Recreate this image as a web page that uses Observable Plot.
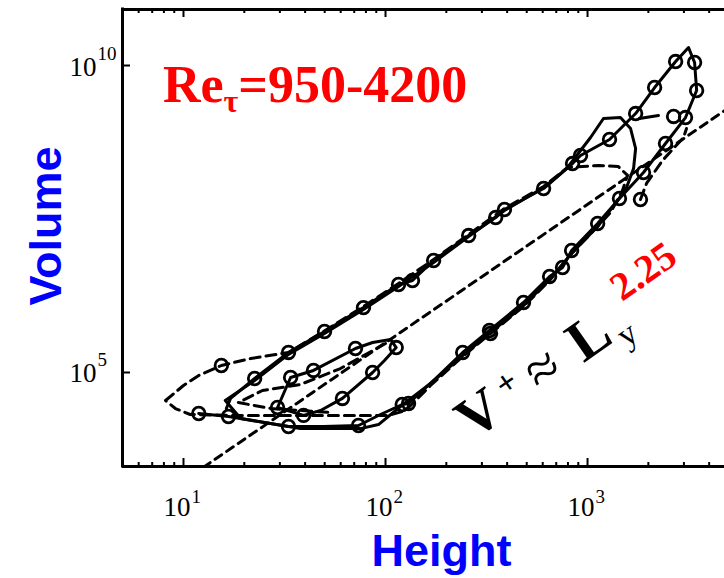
<!DOCTYPE html>
<html>
<head>
<meta charset="utf-8">
<script src="https://cdn.jsdelivr.net/npm/d3@7"></script>
<script src="https://cdn.jsdelivr.net/npm/@observablehq/plot@0.6"></script>
<style>
  html, body { margin: 0; padding: 0; background: #fff; }
  #chart svg { display: block; }
</style>
</head>
<body>
<div id="chart"></div>
<script>
// ---------- data (Height, Volume) ----------
// main loop, solid line
const heightA = [11.9, 16.7, 23.5, 33.1, 49.3, 73.5, 94.4, 121, 130, 177, 241, 327, 482, 649, 752, 834, 1122, 1439, 1892, 2432, 3055, 3467, 3388, 3162, 2729, 2148, 1730, 1285, 923, 843, 606, 388, 351, 258, 173, 136, 116, 77.8, 49.9, 33.1, 22.5, 17.1, 16.3];
const volumeA = [2.15e4, 1.92e4, 1.59e4, 1.32e4, 1.32e4, 1.37e4, 2.07e4, 3.01e4, 3.13e4, 7.98e4, 2.12e5, 4.83e5, 1.38e6, 3.66e6, 5.13e6, 9.70e6, 2.67e7, 6.82e7, 1.81e8, 5.37e8, 1.42e9, 3.92e9, 1.12e10, 1.96e10, 1.16e10, 4.38e9, 1.65e9, 6.23e8, 3.42e8, 2.53e8, 9.93e7, 4.52e7, 3.34e7, 1.70e7, 6.67e6, 3.15e6, 2.71e6, 1.14e6, 4.65e5, 2.12e5, 7.98e4, 3.78e4, 2.59e4];
// second loop, solid line without markers
const heightB = [16.1, 19.2, 37.9, 75.2, 92.3, 118.6, 167, 241, 331, 482, 649, 834, 1122, 1409, 1560, 1690, 1730, 1633, 1455, 1199, 1035, 796, 619, 388, 258, 173, 116, 77.8, 49.9, 33.1, 22.5, 17.5, 16.1];
const volumeB = [3.50e4, 1.78e4, 1.22e4, 1.22e4, 1.42e4, 2.79e4, 6.62e4, 1.89e5, 4.48e5, 1.23e6, 3.27e6, 8.67e6, 2.39e7, 6.33e7, 1.03e8, 2.10e8, 4.45e8, 9.42e8, 1.42e9, 1.37e9, 6.72e8, 2.18e8, 1.07e8, 4.35e7, 1.64e7, 6.18e6, 2.52e6, 1.06e6, 4.32e5, 1.97e5, 7.41e4, 4.23e4, 3.50e4];
// third loop, dashed
const heightC = [8.15, 10, 11.9, 15.4, 21.5, 33.1, 49.3, 77.8, 116, 173, 258, 388, 606, 796, 1133, 1422, 1578, 1489, 1300, 1122, 834, 649, 482, 331, 241, 167, 125.6, 103.5, 37.9, 17.1, 10.8, 9.12, 8.15];
const volumeC = [3.50e4, 6.14e4, 8.94e4, 1.30e5, 1.69e5, 2.12e5, 4.65e5, 1.19e6, 2.82e6, 6.92e6, 1.77e7, 4.69e7, 1.07e8, 2.18e8, 2.35e8, 2.26e8, 1.62e8, 9.21e7, 4.04e7, 2.39e7, 8.67e6, 3.15e6, 1.19e6, 4.32e5, 1.82e5, 6.14e4, 2.40e4, 2.00e4, 2.00e4, 2.00e4, 2.07e4, 2.59e4, 3.50e4];
// dashed tail on the right branch
const heightD = [1828, 1959, 2350, 2985, 3090];
const volumeD = [6.57e7, 1.20e8, 2.84e8, 6.72e8, 9.42e8];
// dashed inner piece
const heightE = [100, 59.8, 37.9, 24.6, 18.7, 27.0, 53.5];
const volumeE = [2.97e5, 1.16e5, 6.38e4, 5.09e4, 3.24e4, 2.59e4, 2.23e4];
// small inner loop, solid
const heightF = [39.3, 29.2, 33.9, 44.0, 71.0, 86.3, 105.9, 113, 98.8, 86.3, 61.2, 47.7, 39.3];
const volumeF = [2.00e4, 2.69e4, 8.29e4, 1.08e5, 2.46e5, 3.08e5, 3.45e5, 2.55e5, 1.57e5, 1.00e5, 3.78e4, 2.40e4, 2.00e4];
// short solid piece near the top
const heightG = [1807, 2244];
const volumeG = [1.37e9, 1.53e9];
// circle markers
const markerHeight = [11.9, 16.7, 33.1, 73.5, 121, 130, 241, 327, 331, 482, 649, 752, 834, 1122, 1439, 1828, 1892, 2432, 3055, 2667, 3467, 3388, 2729, 2148, 1730, 1285, 923, 843, 606, 388, 351, 258, 173, 136, 116, 77.8, 49.9, 33.1, 22.5, 15.4, 29.2, 33.9, 44.0, 71.0, 113, 86.3, 61.2, 39.3];
const markerVolume = [2.15e4, 1.92e4, 1.32e4, 1.37e4, 3.01e4, 3.13e4, 2.12e5, 4.83e5, 4.32e5, 1.38e6, 3.66e6, 5.13e6, 9.70e6, 2.67e7, 6.82e7, 6.57e7, 1.81e8, 5.37e8, 1.42e9, 1.48e9, 3.92e9, 1.12e10, 1.16e10, 4.38e9, 1.65e9, 6.23e8, 3.42e8, 2.53e8, 9.93e7, 4.52e7, 3.34e7, 1.70e7, 6.67e6, 3.15e6, 2.71e6, 1.14e6, 4.65e5, 2.12e5, 7.98e4, 1.30e5, 2.69e4, 8.29e4, 1.08e5, 2.46e5, 2.55e5, 1.00e5, 3.78e4, 2.00e4];
// power-law guide V+ ~ Ly^2.25
const fitHeight = [5, 5000];
const fitVolume = [360, 2.05e9];

// ticks
const xMajor = [10, 100, 1000];
const xMajorExp = ["1", "2", "3"];
const xMinor = [6, 7, 8, 9, 20, 30, 40, 50, 60, 70, 80, 90, 200, 300, 400, 500, 600, 700, 800, 900, 2000, 3000, 4000];
const yMajor = [1e5, 1e10];
const yMajorExp = ["5", "10"];

const xDomain = [4.99, 4764];
const yDomain = [2944, 8.17e10];

const rows = (h, v) => h.map((d, i) => ({height: d, volume: v[i]}));

const W = 724, H = 578, mL = 122, mR = 0, mT = 9, mB = 112;
const innerW = W - mL - mR, innerH = H - mT - mB;
const serif = "Liberation Serif, Times New Roman, serif";
const sans = "Liberation Sans, Arial, Helvetica, sans-serif";
const solid = {x: "height", y: "volume", stroke: "#000", strokeWidth: 3, clip: true};
const dashed = {...solid, strokeDasharray: "10,6"};

const chart = Plot.plot({
  width: W, height: H,
  marginLeft: mL, marginRight: mR, marginTop: mT, marginBottom: mB,
  x: {type: "log", domain: xDomain, axis: null},
  y: {type: "log", domain: yDomain, axis: null},
  style: {background: "#fff", overflow: "visible"},
  marks: [
    Plot.line(rows(fitHeight, fitVolume), {x: "height", y: "volume", stroke: "#000", strokeWidth: 3, strokeDasharray: "8,6", clip: true}),
    Plot.line(rows(heightC, volumeC), dashed),
    Plot.line(rows(heightD, volumeD), dashed),
    Plot.line(rows(heightE, volumeE), dashed),
    Plot.line(rows(heightB, volumeB), solid),
    Plot.line(rows(heightA, volumeA), solid),
    Plot.line(rows(heightF, volumeF), solid),
    Plot.line(rows(heightG, volumeG), solid),
    Plot.dot(rows(markerHeight, markerVolume), {x: "height", y: "volume", r: 6.3, stroke: "#000", strokeWidth: 2.8, fill: "none"}),
    // ticks (inward)
    Plot.ruleX(xMajor, {x: d => d, insetTop: innerH - 8, stroke: "#000", strokeWidth: 2}),
    Plot.ruleX(xMinor, {x: d => d, insetTop: innerH - 4, stroke: "#000", strokeWidth: 2}),
    Plot.ruleX(xMajor, {x: d => d, insetBottom: innerH - 8, stroke: "#000", strokeWidth: 2}),
    Plot.ruleX(xMinor, {x: d => d, insetBottom: innerH - 4, stroke: "#000", strokeWidth: 2}),
    Plot.ruleY(yMajor, {y: d => d, insetRight: innerW - 8, stroke: "#000", strokeWidth: 2}),
    // frame
    Plot.ruleX([xDomain[0]], {x: d => d, stroke: "#000", strokeWidth: 3, strokeLinecap: "square"}),
    Plot.ruleY([yDomain[0], yDomain[1]], {y: d => d, stroke: "#000", strokeWidth: 3}),
    // tick labels
    Plot.text(xMajor, {x: d => d, frameAnchor: "bottom", text: () => "10", textAnchor: "end", lineAnchor: "bottom", dx: 7, dy: 49, fontSize: 27, fontFamily: serif, fill: "#000"}),
    Plot.text(xMajor, {x: d => d, frameAnchor: "bottom", text: (d, i) => xMajorExp[i], textAnchor: "start", lineAnchor: "bottom", dx: 8, dy: 36, fontSize: 19, fontFamily: serif, fill: "#000"}),
    Plot.text(yMajor, {y: d => d, frameAnchor: "left", text: () => "10", textAnchor: "end", lineAnchor: "bottom", dx: -26, dy: 10, fontSize: 27, fontFamily: serif, fill: "#000"}),
    Plot.text(yMajor, {y: d => d, frameAnchor: "left", text: (d, i) => yMajorExp[i], textAnchor: "start", lineAnchor: "bottom", dx: -25, dy: -6, fontSize: 19, fontFamily: serif, fill: "#000"}),
    // axis titles
    Plot.text(["Height"], {frameAnchor: "bottom", text: d => d, textAnchor: "middle", lineAnchor: "bottom", dx: 18, dy: 99, fontSize: 45, fontWeight: "bold", fontFamily: sans, fill: "#0000ff"}),
    Plot.text(["Volume"], {frameAnchor: "left", text: d => d, rotate: -90, textAnchor: "middle", lineAnchor: "bottom", dx: -62, dy: -12, fontSize: 45, fontWeight: "bold", fontFamily: sans, fill: "#0000ff"})
  ]
});

document.getElementById("chart").appendChild(chart);

// ---------- annotations with sub/superscripts ----------
const reLabelAt = {height: 7.96, volume: 2.5e9};
const lawLabelAt = {height: 272, volume: 7600};
const sx = chart.scale("x"), sy = chart.scale("y");
const svg = d3.select(chart);

const re = svg.append("text")
  .attr("x", sx.apply(reLabelAt.height)).attr("y", sy.apply(reLabelAt.volume))
  .attr("text-anchor", "start")
  .attr("fill", "#ff0000").attr("font-family", serif).attr("font-weight", "bold").attr("font-size", 52);
re.append("tspan").text("Re");
re.append("tspan").attr("font-size", 32).attr("dy", 10).text("τ");
re.append("tspan").attr("dy", -10).text("=950-4200");

const law = svg.append("text")
  .attr("transform", `translate(${sx.apply(lawLabelAt.height)},${sy.apply(lawLabelAt.volume)}) rotate(-35)`)
  .attr("text-anchor", "start")
  .attr("fill", "#000").attr("font-family", serif).attr("font-weight", "bold").attr("font-size", 58);
law.append("tspan").text("V");
law.append("tspan").attr("font-size", 34).attr("dx", 9).attr("dy", -17).text("+");
law.append("tspan").attr("font-weight", "normal").attr("dx", 12).attr("dy", 17).text("≈");
law.append("tspan").attr("dx", 21).text("L");
law.append("tspan").attr("font-size", 34).attr("font-weight", "normal").attr("dx", 5).attr("dy", 12).text("y");
law.append("tspan").attr("font-size", 40).attr("fill", "#ff0000").attr("dx", 6).attr("dy", -40).text("2.25");
</script>
</body>
</html>
